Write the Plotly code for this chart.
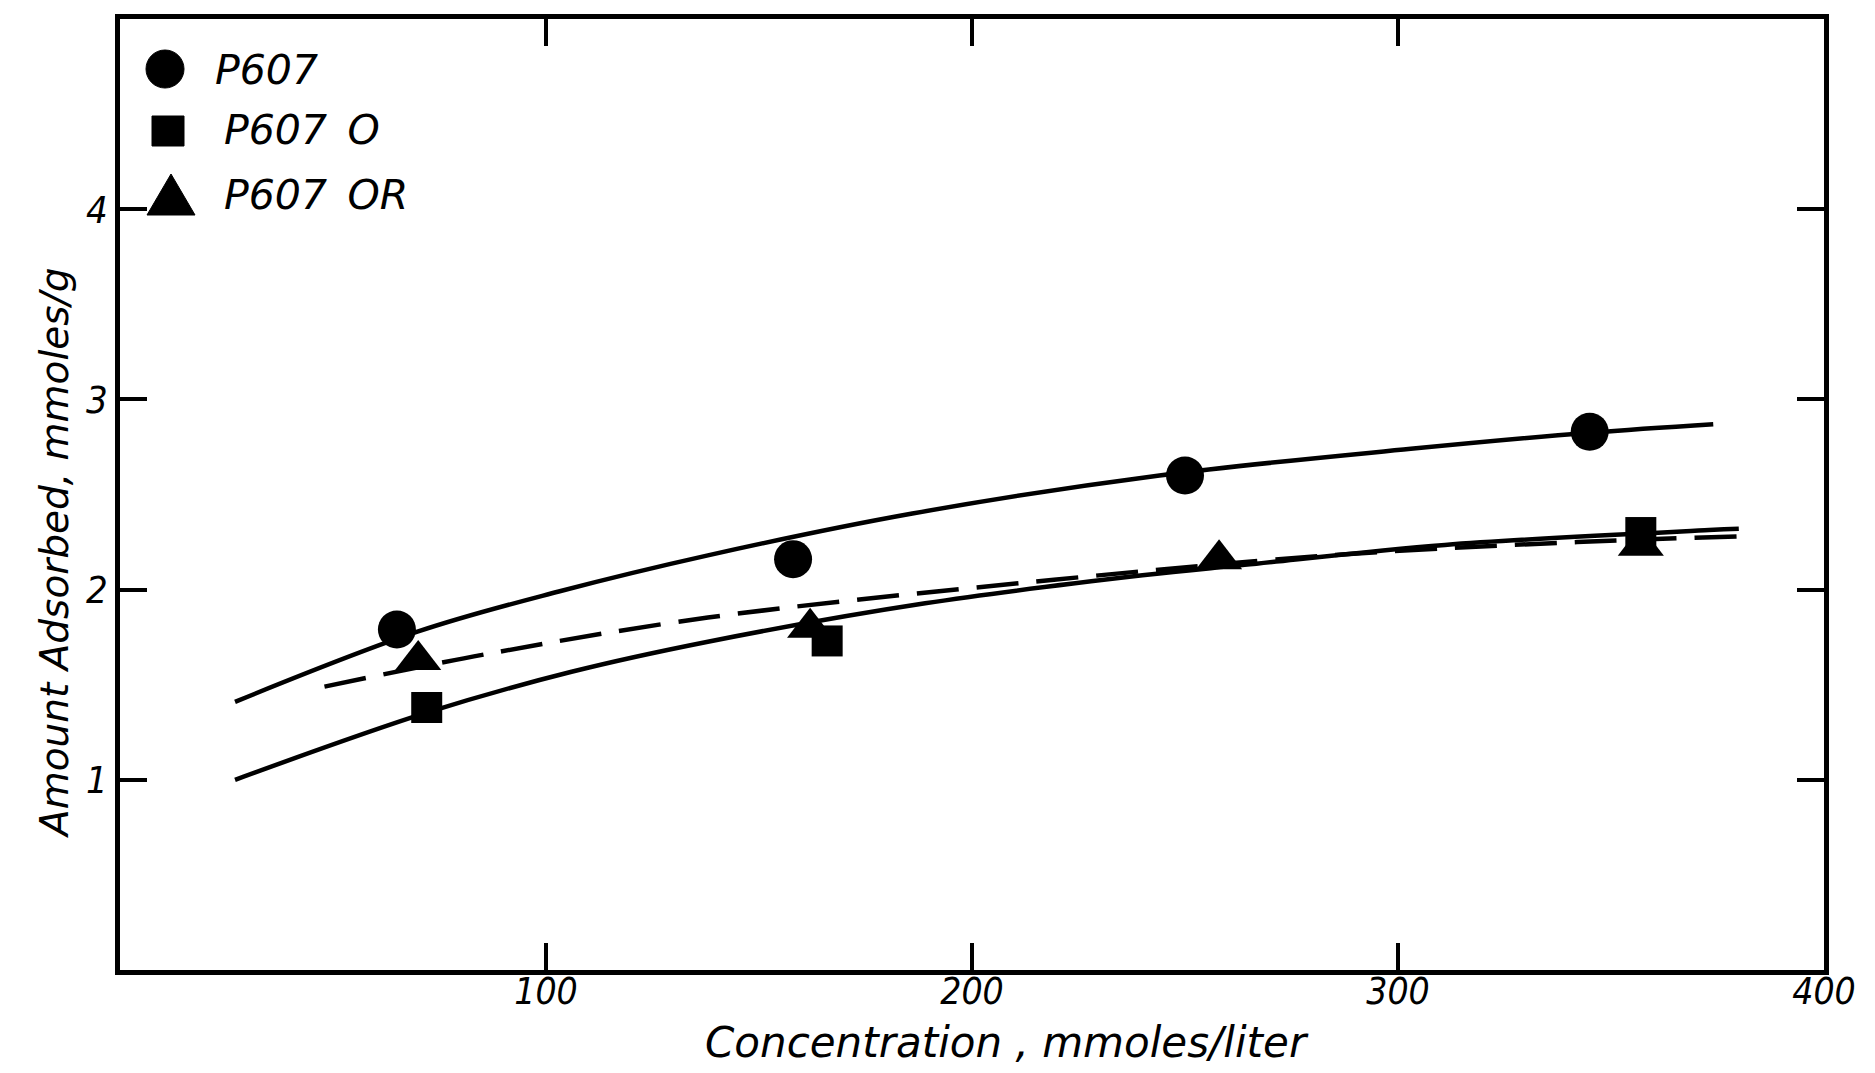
import plotly.graph_objects as go

# ---- data ----
p607_x = [65, 158, 250, 345]
p607_y = [1.79, 2.16, 2.60, 2.83]

p607o_x = [72, 166, 357]
p607o_y = [1.38, 1.73, 2.30]

p607or_x = [70, 162, 258, 357]
p607or_y = [1.63, 1.80, 2.16, 2.23]

# hand-drawn fitted curves (read points)
upper_x = [27, 70, 103, 138, 186, 244, 303, 345, 374]
upper_y = [1.41, 1.78, 1.99, 2.18, 2.40, 2.60, 2.74, 2.825, 2.87]

lower_x = [27, 72, 106, 138, 189, 240, 264, 311, 373, 380]
lower_y = [1.00, 1.353, 1.568, 1.726, 1.928, 2.075, 2.13, 2.235, 2.313, 2.32]

dashed_x = [48, 87, 138, 214, 284, 342, 380]
dashed_y = [1.49, 1.665, 1.853, 2.04, 2.18, 2.25, 2.28]

x_ticks = [100, 200, 300, 400]
y_ticks = [1, 2, 3, 4]

legend_labels = ["P607", "P607 O", "P607 OR"]
x_title = "Concentration , mmoles/liter"
y_title = "Amount Adsorbed, mmoles/g"

FONT = "DejaVu Sans"
TICKFONT = "DejaVu Sans Condensed, DejaVu Sans"

# page body has an 8px margin: figure is drawn at (8, 8) in the window
OFF = 8
W, H = 1875 - OFF, 1073 - OFF
# plot area wanted in window pixels: left 120, right 1824, top 19, bottom 970
ML = 120 - OFF
MT = 19 - OFF
MR = W - (1824 - OFF)
MB = H - (970 - OFF)

fig = go.Figure()

for xs, ys, dash in [(upper_x, upper_y, "solid"), (lower_x, lower_y, "solid"),
                     (dashed_x, dashed_y, "42px,18px")]:
    fig.add_trace(go.Scatter(x=xs, y=ys, mode="lines",
                             line=dict(color="black", width=4.5, dash=dash,
                                       shape="spline", smoothing=1.0),
                             showlegend=False, hoverinfo="skip"))

fig.add_trace(go.Scatter(x=p607_x, y=p607_y, mode="markers", name=legend_labels[0],
                         marker=dict(symbol="circle", size=38, color="black"),
                         showlegend=False))
fig.add_trace(go.Scatter(x=p607o_x, y=p607o_y, mode="markers", name=legend_labels[1],
                         marker=dict(symbol="square", size=31, color="black"),
                         showlegend=False))
fig.add_trace(go.Scatter(x=p607or_x, y=p607or_y, mode="markers", name=legend_labels[2],
                         marker=dict(symbol="triangle-up", size=40, color="black"),
                         showlegend=False))

# ---- hand-made legend (window pixel positions converted to paper coords) ----
pw = W - ML - MR
ph = H - MT - MB


def px(xp):
    return (xp - OFF - ML) / pw


def py(yp):
    return (H - MB - (yp - OFF)) / ph


shapes = []
shapes.append(dict(type="circle", xref="paper", yref="paper", xsizemode="pixel", ysizemode="pixel",
                   xanchor=px(165), yanchor=py(69), x0=-19, x1=19, y0=-19, y1=19,
                   fillcolor="black", line=dict(color="black", width=1)))
shapes.append(dict(type="rect", xref="paper", yref="paper", xsizemode="pixel", ysizemode="pixel",
                   xanchor=px(168), yanchor=py(131), x0=-16, x1=16, y0=-15, y1=15,
                   fillcolor="black", line=dict(color="black", width=1)))
shapes.append(dict(type="path", xref="paper", yref="paper", xsizemode="pixel", ysizemode="pixel",
                   xanchor=px(171), yanchor=py(195), path="M -24,-20 L 24,-20 L 0,21 Z",
                   fillcolor="black", line=dict(color="black", width=1)))

legend_y = [70, 130, 195]
legend_xs = [213, 222, 222]
annotations = []
for lab, xx, yy in zip(legend_labels, legend_xs, legend_y):
    annotations.append(dict(text=lab.replace(" ", "\u2002"), xref="paper", yref="paper",
                            x=px(xx), y=py(yy), xanchor="left", yanchor="middle", showarrow=False,
                            font=dict(family=FONT, size=41, color="black", style="italic")))

# axis titles
annotations.append(dict(text=x_title, xref="paper", yref="paper", x=px(1007), y=py(1042),
                        xanchor="center", yanchor="middle", showarrow=False,
                        font=dict(family=FONT, size=42, color="black", style="italic")))
annotations.append(dict(text=y_title, xref="paper", yref="paper", x=px(54), y=py(553),
                        xanchor="center", yanchor="middle", showarrow=False, textangle=-90,
                        font=dict(family=FONT, size=39, color="black", style="italic")))

fig.update_layout(
    width=W, height=H,
    margin=dict(l=ML, r=MR, t=MT, b=MB),
    paper_bgcolor="white", plot_bgcolor="white",
    shapes=shapes, annotations=annotations,
    showlegend=False,
    font=dict(family=FONT, color="black", style="italic"),
)

fig.update_xaxes(range=[0, 400], tickvals=x_ticks, ticktext=[str(v) for v in x_ticks],
                 showgrid=False, zeroline=False, showline=True, linecolor="black", linewidth=4.5,
                 mirror="ticks", ticks="inside", ticklen=27, tickwidth=4, tickcolor="black",
                 ticklabelstandoff=-15, automargin=False,
                 tickfont=dict(family=TICKFONT, size=37, color="black", style="italic"))

fig.update_yaxes(range=[0, 5], tickvals=y_ticks, ticktext=[str(v) for v in y_ticks],
                 showgrid=False, zeroline=False, showline=True, linecolor="black", linewidth=4.5,
                 mirror="ticks", ticks="inside", ticklen=27, tickwidth=4, tickcolor="black",
                 automargin=False,
                 tickfont=dict(family=TICKFONT, size=38, color="black", style="italic"))

fig.write_html("out.html")
